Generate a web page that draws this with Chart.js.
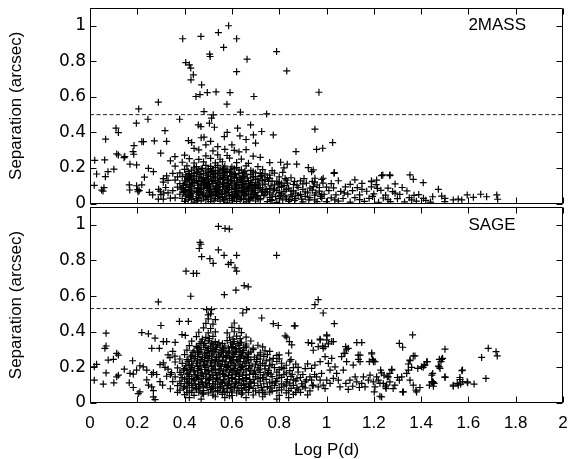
<!DOCTYPE html>
<html><head><meta charset="utf-8">
<script src="https://cdn.jsdelivr.net/npm/chart.js@4.4.1/dist/chart.umd.min.js"></script>
<style>
html,body{margin:0;padding:0;background:#fff;}
#wrap{position:relative;width:571px;height:459px;background:#fff;}
canvas{position:absolute;left:0;top:0;}
</style></head><body>
<div id="wrap"><canvas id="c1" width="571" height="459"></canvas><canvas id="c2" width="571" height="459"></canvas></div>
<script>
// ---- axis ticks / labels ----
const logPTicks = [0,0.2,0.4,0.6,0.8,1,1.2,1.4,1.6,1.8,2];
const sepTicks = [0,0.2,0.4,0.6,0.8,1];
const panelNames = ['2MASS','SAGE'];
const cutoffs = [0.5, 0.53];
const xTitle = 'Log P(d)';
const yTitle = 'Separation (arcsec)';

// ---- 2MASS panel: [log P, separation] ----
const mass2Outliers = [[0.392,0.927],[0.469,0.94],[0.543,0.962],[0.586,1.0],[0.62,0.927],[0.565,0.878],[0.506,0.84],[0.508,0.827],[0.664,0.812],[0.789,0.855],[0.832,0.746],[0.62,0.742],[0.405,0.793],[0.42,0.78],[0.426,0.762],[0.437,0.724],[0.427,0.696],[0.472,0.668],[0.448,0.602],[0.465,0.613],[0.496,0.624],[0.533,0.628],[0.592,0.624],[0.579,0.559],[0.693,0.602],[0.636,0.514],[0.482,0.517],[0.747,0.504],[0.289,0.57],[0.206,0.532],[0.196,0.452],[0.245,0.474],[0.379,0.474],[0.11,0.424],[0.12,0.399],[0.066,0.362],[0.02,0.243],[0.028,0.166],[0.018,0.102],[0.049,0.076],[0.055,0.07],[0.065,0.151],[0.076,0.179],[0.101,0.193],[0.113,0.279],[0.12,0.273],[0.147,0.264],[0.185,0.277],[0.186,0.326],[0.219,0.348],[0.226,0.348],[0.272,0.352],[0.317,0.41],[0.324,0.35],[0.299,0.283],[0.169,0.221],[0.197,0.217],[0.247,0.198],[0.268,0.179],[0.166,0.105],[0.197,0.1],[0.219,0.105],[0.202,0.078],[0.208,0.072],[0.23,0.148],[0.251,0.063],[0.265,0.048],[0.289,0.025],[0.31,0.025],[0.297,0.069],[0.312,0.059],[0.31,0.14],[0.324,0.155],[0.359,0.264],[0.416,0.354],[0.43,0.343],[0.458,0.442],[0.469,0.433],[0.482,0.373],[0.505,0.452],[0.514,0.48],[0.521,0.499],[0.526,0.429],[0.624,0.424],[0.634,0.38],[0.568,0.376],[0.679,0.442],[0.691,0.386],[0.726,0.405],[0.775,0.386],[0.806,0.232],[0.834,0.221],[0.871,0.292],[0.968,0.626],[0.951,0.418],[0.958,0.305],[0.984,0.311],[1.026,0.343],[0.874,0.221],[0.923,0.202],[0.937,0.179],[1.033,0.174],[1.238,0.161],[1.268,0.161],[1.353,0.161],[1.367,0.136],[1.409,0.117],[1.473,0.08],[0.059,0.089],[0.062,0.245],[0.144,0.258],[0.182,0.292],[0.168,0.076],[0.203,0.066],[0.49,0.33],[0.51,0.35],[0.54,0.32],[0.44,0.31],[0.6,0.33],[0.63,0.29],[0.72,0.26],[0.76,0.23],[0.82,0.2],[0.7,0.34],[0.66,0.36],[0.58,0.4],[0.47,0.37]];
const mass2Core = [
[0.40,0.012],[0.44,0.008],[0.47,0.015],[0.51,0.010],[0.55,0.013],[0.58,0.007],[0.62,0.012],[0.66,0.009],[0.70,0.014],[0.75,0.010],[0.79,0.006],[0.84,0.012],[0.90,0.009],[0.96,0.011],
[0.36,0.032],[0.39,0.028],[0.42,0.034],[0.45,0.027],[0.48,0.031],[0.50,0.036],[0.53,0.029],[0.56,0.033],[0.59,0.027],[0.61,0.035],[0.64,0.030],[0.67,0.026],[0.69,0.033],[0.72,0.029],[0.76,0.034],[0.80,0.028],[0.83,0.031],[0.87,0.027],[0.93,0.033],[0.98,0.029],
[0.38,0.052],[0.41,0.048],[0.43,0.055],[0.46,0.050],[0.49,0.046],[0.52,0.053],[0.54,0.049],[0.57,0.055],[0.60,0.051],[0.63,0.047],[0.65,0.054],[0.68,0.050],[0.71,0.045],[0.74,0.052],[0.77,0.048],[0.81,0.054],[0.85,0.049],[0.89,0.051],[0.95,0.047],
[0.35,0.072],[0.40,0.068],[0.42,0.074],[0.45,0.070],[0.47,0.066],[0.50,0.073],[0.53,0.069],[0.55,0.075],[0.58,0.071],[0.61,0.067],[0.64,0.072],[0.66,0.068],[0.69,0.074],[0.73,0.070],[0.75,0.065],[0.79,0.072],[0.82,0.068],[0.86,0.071],[0.91,0.066],[0.97,0.070],
[0.37,0.092],[0.39,0.088],[0.43,0.094],[0.46,0.090],[0.48,0.086],[0.51,0.093],[0.54,0.089],[0.56,0.095],[0.59,0.091],[0.62,0.087],[0.65,0.092],[0.67,0.088],[0.70,0.094],[0.72,0.089],[0.76,0.085],[0.80,0.091],[0.84,0.087],[0.88,0.090],[0.93,0.086],
[0.38,0.112],[0.41,0.108],[0.44,0.114],[0.47,0.110],[0.49,0.106],[0.52,0.113],[0.55,0.109],[0.57,0.115],[0.60,0.111],[0.63,0.107],[0.66,0.112],[0.68,0.108],[0.71,0.114],[0.74,0.109],[0.78,0.105],[0.81,0.111],[0.86,0.107],[0.90,0.110],[0.96,0.104],
[0.36,0.132],[0.40,0.128],[0.42,0.134],[0.45,0.130],[0.48,0.126],[0.50,0.133],[0.53,0.129],[0.56,0.135],[0.58,0.131],[0.61,0.127],[0.64,0.132],[0.67,0.128],[0.70,0.134],[0.73,0.129],[0.77,0.126],[0.83,0.131],[0.89,0.127],
[0.39,0.152],[0.41,0.148],[0.44,0.154],[0.46,0.150],[0.49,0.146],[0.52,0.153],[0.54,0.149],[0.57,0.155],[0.60,0.151],[0.62,0.147],[0.65,0.152],[0.69,0.148],[0.72,0.153],[0.75,0.146],[0.80,0.150],[0.85,0.145],
[0.38,0.172],[0.42,0.168],[0.45,0.174],[0.48,0.170],[0.51,0.166],[0.53,0.173],[0.56,0.169],[0.59,0.175],[0.63,0.170],[0.66,0.166],[0.70,0.172],[0.74,0.167],[0.78,0.171],
[0.40,0.192],[0.43,0.188],[0.47,0.194],[0.50,0.190],[0.52,0.186],[0.55,0.193],[0.58,0.189],[0.61,0.195],[0.64,0.190],[0.68,0.186],[0.73,0.191],
[0.41,0.212],[0.45,0.208],[0.49,0.214],[0.51,0.209],[0.54,0.215],[0.57,0.210],[0.60,0.206],[0.66,0.212],[0.71,0.207],
[0.39,0.232],[0.44,0.228],[0.48,0.234],[0.53,0.229],[0.56,0.235],[0.62,0.230],[0.67,0.226],
[0.42,0.252],[0.46,0.248],[0.51,0.254],[0.55,0.249],[0.59,0.255],[0.64,0.250],
[0.40,0.272],[0.49,0.268],[0.54,0.274],[0.58,0.270],[0.69,0.266],
[0.46,0.302],[0.52,0.296],[0.57,0.305],[0.61,0.299],[0.66,0.303],
[0.30,0.05],[0.32,0.09],[0.33,0.13],[0.34,0.03],[0.35,0.17],[0.31,0.12],[0.29,0.08],[0.33,0.06],[0.36,0.21],[0.34,0.24],[0.37,0.15]];
const mass2Dense = [
[0.415,0.020],[0.455,0.018],[0.49,0.022],[0.525,0.019],[0.565,0.021],[0.60,0.017],[0.635,0.022],[0.675,0.019],[0.72,0.021],[0.77,0.018],[0.815,0.02],[0.865,0.017],
[0.405,0.041],[0.435,0.038],[0.465,0.043],[0.495,0.039],[0.515,0.044],[0.545,0.040],[0.575,0.037],[0.605,0.042],[0.625,0.039],[0.655,0.043],[0.685,0.038],[0.705,0.041],[0.735,0.044],[0.785,0.039],[0.825,0.042],[0.91,0.04],
[0.395,0.061],[0.425,0.058],[0.455,0.063],[0.48,0.059],[0.505,0.064],[0.535,0.060],[0.56,0.057],[0.585,0.062],[0.615,0.059],[0.645,0.063],[0.67,0.058],[0.70,0.061],[0.725,0.064],[0.76,0.059],[0.80,0.062],[0.87,0.058],
[0.385,0.081],[0.415,0.078],[0.44,0.083],[0.465,0.079],[0.495,0.084],[0.525,0.080],[0.545,0.077],[0.575,0.082],[0.60,0.079],[0.63,0.083],[0.655,0.078],[0.685,0.081],[0.71,0.084],[0.745,0.079],[0.78,0.082],[0.83,0.078],[0.90,0.08],
[0.395,0.101],[0.425,0.098],[0.455,0.103],[0.485,0.099],[0.505,0.104],[0.535,0.100],[0.565,0.097],[0.585,0.102],[0.615,0.099],[0.645,0.103],[0.675,0.098],[0.695,0.101],[0.73,0.104],[0.765,0.099],[0.82,0.102],
[0.405,0.121],[0.435,0.118],[0.46,0.123],[0.485,0.119],[0.515,0.124],[0.54,0.120],[0.565,0.117],[0.595,0.122],[0.625,0.119],[0.655,0.123],[0.685,0.118],[0.715,0.121],[0.755,0.124],[0.80,0.119],
[0.415,0.141],[0.44,0.138],[0.47,0.143],[0.495,0.139],[0.525,0.144],[0.55,0.140],[0.585,0.137],[0.61,0.142],[0.635,0.139],[0.665,0.143],[0.71,0.138],[0.76,0.141],
[0.405,0.161],[0.43,0.158],[0.465,0.163],[0.495,0.159],[0.52,0.164],[0.55,0.160],[0.58,0.157],[0.615,0.162],[0.645,0.159],[0.68,0.163],[0.725,0.158],
[0.415,0.181],[0.455,0.178],[0.49,0.183],[0.515,0.179],[0.545,0.184],[0.575,0.180],[0.60,0.177],[0.655,0.182],[0.69,0.178],
[0.44,0.201],[0.475,0.198],[0.53,0.203],[0.565,0.199],[0.62,0.202]];
const mass2Fill = [
[0.43,0.025],[0.46,0.03],[0.50,0.024],[0.54,0.028],[0.57,0.022],[0.61,0.026],[0.65,0.023],[0.68,0.029],[0.71,0.025],
[0.425,0.047],[0.475,0.053],[0.51,0.047],[0.555,0.051],[0.59,0.046],[0.62,0.052],[0.66,0.048],[0.695,0.053],
[0.43,0.065],[0.46,0.07],[0.515,0.066],[0.545,0.072],[0.57,0.065],[0.625,0.07],[0.65,0.066],[0.685,0.071],[0.74,0.067],
[0.405,0.09],[0.455,0.085],[0.495,0.092],[0.53,0.087],[0.575,0.092],[0.61,0.086],[0.64,0.091],[0.665,0.085],[0.715,0.09],
[0.42,0.106],[0.47,0.104],[0.50,0.112],[0.545,0.107],[0.58,0.113],[0.62,0.105],[0.65,0.11],[0.70,0.106],
[0.43,0.127],[0.475,0.132],[0.52,0.128],[0.55,0.134],[0.60,0.128],[0.635,0.133],[0.68,0.127],
[0.425,0.15],[0.48,0.145],[0.51,0.152],[0.565,0.146],[0.595,0.153],[0.645,0.147],[0.69,0.152],
[0.44,0.17],[0.50,0.175],[0.54,0.168],[0.57,0.174],[0.61,0.168],[0.65,0.172],
[0.46,0.19],[0.51,0.196],[0.56,0.19],[0.595,0.194],[0.63,0.187]];
const mass2Right = [[0.765,0.022],[0.805,0.045],[0.845,0.022],[0.88,0.045],[0.92,0.06],[0.95,0.02],[0.775,0.075],[0.81,0.095],[0.85,0.07],[0.875,0.1],[0.915,0.115],[0.94,0.075],[0.79,0.125],[0.825,0.14],[0.865,0.125],[0.905,0.14],[0.76,0.16],[0.815,0.175],[0.95,0.12],[0.97,0.09],[0.98,0.05],[0.795,0.11],[0.835,0.115],[0.855,0.04],[0.895,0.025],[0.74,0.135],[0.77,0.185],[0.72,0.17]];
const mass2Tail = [
[1.00,0.010],[1.05,0.013],[1.10,0.008],[1.16,0.012],[1.22,0.007],[1.27,0.011],[1.33,0.009],[1.38,0.013],[1.44,0.008],[1.50,0.011],
[1.02,0.032],[1.07,0.028],[1.12,0.033],[1.18,0.029],[1.24,0.031],[1.30,0.027],[1.35,0.033],[1.41,0.029],
[0.99,0.052],[1.04,0.048],[1.09,0.053],[1.14,0.049],[1.20,0.054],[1.25,0.047],[1.31,0.051],[1.37,0.046],
[1.01,0.072],[1.06,0.068],[1.11,0.073],[1.17,0.069],[1.23,0.074],[1.28,0.067],[1.34,0.071],
[1.00,0.092],[1.03,0.088],[1.08,0.093],[1.13,0.089],[1.19,0.094],[1.26,0.087],[1.32,0.090],
[1.02,0.112],[1.10,0.108],[1.15,0.113],[1.21,0.106],[1.29,0.110],
[1.05,0.128],[1.12,0.133],[1.19,0.126],[0.98,0.135],[0.94,0.125],
[0.925,0.02],[0.955,0.06],[0.945,0.095],[0.975,0.04],[0.985,0.115],[1.035,0.02],[1.075,0.06],[1.14,0.022],[1.195,0.04],[1.15,0.08],[1.215,0.085],[1.26,0.022],[1.29,0.058],[1.36,0.02],[1.39,0.05],[1.42,0.018],
[1.449,0.038],[1.487,0.042],[1.501,0.029],[1.536,0.02],[1.557,0.025],[1.572,0.02],[1.595,0.048],[1.621,0.035],[1.652,0.052],[1.677,0.038],[1.72,0.048],[1.724,0.024],[1.191,0.123],[1.212,0.132],[1.233,0.157],[1.268,0.157],[1.032,0.17],[0.944,0.189],[0.951,0.142],[0.986,0.142]];

// ---- SAGE panel: [log P, separation] ----
const sageOutliers = [[0.543,0.991],[0.571,0.98],[0.589,0.976],[0.465,0.901],[0.469,0.891],[0.462,0.867],[0.472,0.821],[0.507,0.81],[0.521,0.784],[0.543,0.859],[0.567,0.829],[0.62,0.829],[0.585,0.778],[0.596,0.788],[0.613,0.759],[0.62,0.74],[0.789,0.829],[0.406,0.74],[0.437,0.727],[0.451,0.727],[0.426,0.599],[0.568,0.608],[0.617,0.633],[0.652,0.659],[0.669,0.652],[0.289,0.567],[0.646,0.505],[0.662,0.524],[0.493,0.524],[0.5,0.495],[0.514,0.524],[0.726,0.477],[0.775,0.445],[0.796,0.435],[0.864,0.433],[0.068,0.392],[0.3,0.435],[0.219,0.395],[0.247,0.388],[0.378,0.458],[0.416,0.458],[0.275,0.364],[0.31,0.345],[0.324,0.345],[0.389,0.384],[0.403,0.379],[0.261,0.307],[0.293,0.307],[0.068,0.32],[0.063,0.307],[0.077,0.241],[0.099,0.245],[0.113,0.279],[0.12,0.269],[0.018,0.203],[0.028,0.217],[0.018,0.128],[0.056,0.106],[0.068,0.169],[0.101,0.113],[0.113,0.147],[0.12,0.156],[0.145,0.19],[0.18,0.237],[0.169,0.166],[0.183,0.162],[0.197,0.185],[0.166,0.113],[0.183,0.087],[0.211,0.209],[0.225,0.203],[0.24,0.185],[0.204,0.053],[0.211,0.062],[0.24,0.13],[0.247,0.1],[0.261,0.16],[0.261,0.09],[0.268,0.07],[0.268,0.034],[0.275,0.019],[0.268,0.17],[0.282,0.16],[0.296,0.215],[0.31,0.225],[0.317,0.2],[0.296,0.12],[0.307,0.1],[0.338,0.255],[0.359,0.263],[0.324,0.15],[0.345,0.17]];
const sageCore = [
[0.40,0.047],[0.44,0.043],[0.48,0.050],[0.52,0.044],[0.56,0.048],[0.60,0.042],[0.64,0.049],[0.69,0.045],[0.74,0.050],[0.80,0.043],[0.86,0.048],[0.92,0.046],
[0.38,0.072],[0.42,0.068],[0.45,0.074],[0.48,0.069],[0.51,0.075],[0.54,0.070],[0.57,0.066],[0.60,0.073],[0.63,0.069],[0.66,0.074],[0.70,0.068],[0.73,0.072],[0.77,0.067],[0.81,0.073],[0.84,0.069],[0.88,0.074],[0.93,0.068],
[0.37,0.097],[0.40,0.093],[0.43,0.099],[0.46,0.094],[0.49,0.100],[0.52,0.095],[0.55,0.091],[0.58,0.098],[0.61,0.094],[0.64,0.099],[0.67,0.093],[0.71,0.097],[0.75,0.092],[0.78,0.098],[0.82,0.094],[0.86,0.099],[0.90,0.093],[0.94,0.097],
[0.38,0.122],[0.41,0.118],[0.44,0.124],[0.47,0.119],[0.50,0.125],[0.53,0.120],[0.56,0.116],[0.59,0.123],[0.62,0.119],[0.65,0.124],[0.68,0.118],[0.72,0.122],[0.76,0.117],[0.79,0.123],[0.83,0.119],[0.87,0.124],[0.91,0.118],
[0.36,0.147],[0.39,0.143],[0.42,0.149],[0.45,0.144],[0.48,0.150],[0.51,0.145],[0.54,0.141],[0.57,0.148],[0.60,0.144],[0.63,0.149],[0.66,0.143],[0.70,0.147],[0.73,0.142],[0.77,0.148],[0.81,0.144],[0.85,0.149],[0.89,0.143],[0.93,0.147],
[0.38,0.172],[0.41,0.168],[0.44,0.174],[0.47,0.169],[0.50,0.175],[0.53,0.170],[0.56,0.166],[0.59,0.173],[0.62,0.169],[0.65,0.174],[0.69,0.168],[0.72,0.172],[0.75,0.167],[0.79,0.173],[0.83,0.169],[0.88,0.174],
[0.37,0.197],[0.40,0.193],[0.43,0.199],[0.46,0.194],[0.49,0.200],[0.52,0.195],[0.55,0.191],[0.58,0.198],[0.61,0.194],[0.64,0.199],[0.67,0.193],[0.71,0.197],[0.74,0.192],[0.78,0.198],[0.82,0.194],[0.86,0.199],[0.91,0.193],
[0.39,0.222],[0.42,0.218],[0.45,0.224],[0.48,0.219],[0.51,0.225],[0.54,0.220],[0.57,0.216],[0.60,0.223],[0.63,0.219],[0.66,0.224],[0.70,0.218],[0.73,0.222],[0.77,0.217],[0.81,0.223],[0.87,0.219],
[0.38,0.247],[0.41,0.243],[0.44,0.249],[0.47,0.244],[0.50,0.250],[0.53,0.245],[0.56,0.241],[0.59,0.248],[0.62,0.244],[0.65,0.249],[0.68,0.243],[0.72,0.247],[0.76,0.242],[0.80,0.248],[0.85,0.244],
[0.40,0.272],[0.43,0.268],[0.46,0.274],[0.49,0.269],[0.52,0.275],[0.55,0.270],[0.58,0.266],[0.61,0.273],[0.64,0.269],[0.67,0.274],[0.71,0.268],[0.75,0.272],[0.79,0.267],
[0.41,0.297],[0.44,0.293],[0.47,0.299],[0.50,0.294],[0.53,0.300],[0.56,0.295],[0.59,0.291],[0.62,0.298],[0.65,0.294],[0.69,0.299],[0.74,0.293],
[0.42,0.322],[0.45,0.318],[0.48,0.324],[0.51,0.319],[0.54,0.325],[0.57,0.320],[0.60,0.316],[0.63,0.323],[0.66,0.319],[0.71,0.324],
[0.43,0.347],[0.47,0.343],[0.50,0.349],[0.53,0.344],[0.58,0.350],[0.61,0.345],[0.64,0.341],[0.68,0.348],
[0.45,0.372],[0.49,0.368],[0.52,0.374],[0.59,0.369],[0.62,0.375],[0.66,0.370],
[0.46,0.397],[0.50,0.393],[0.53,0.399],[0.58,0.394],[0.61,0.400],[0.64,0.395],
[0.48,0.422],[0.51,0.418],[0.60,0.424],[0.63,0.419],
[0.49,0.447],[0.52,0.443],[0.61,0.449],
[0.50,0.472],[0.53,0.468],[0.51,0.50],
[0.42,0.03],[0.47,0.022],[0.53,0.035],[0.57,0.03],[0.59,0.04],[0.66,0.03],[0.73,0.035],[0.79,0.022],[0.84,0.03],
[0.34,0.08],[0.35,0.12],[0.33,0.19],[0.36,0.23],[0.35,0.29],[0.37,0.06],[0.34,0.16],[0.36,0.34],[0.33,0.27]];
const sageDense = [
[0.41,0.058],[0.46,0.061],[0.50,0.057],[0.54,0.062],[0.58,0.059],[0.62,0.056],[0.67,0.060],[0.715,0.058],[0.76,0.061],[0.83,0.057],[0.89,0.06],
[0.395,0.084],[0.435,0.087],[0.465,0.083],[0.495,0.088],[0.53,0.084],[0.565,0.081],[0.595,0.086],[0.625,0.083],[0.655,0.087],[0.69,0.082],[0.725,0.086],[0.765,0.083],[0.80,0.087],[0.85,0.082],[0.91,0.085],
[0.385,0.109],[0.415,0.112],[0.445,0.108],[0.475,0.113],[0.505,0.109],[0.54,0.106],[0.57,0.111],[0.60,0.108],[0.63,0.112],[0.66,0.107],[0.695,0.111],[0.735,0.108],[0.77,0.112],[0.81,0.107],[0.845,0.111],[0.895,0.108],
[0.40,0.134],[0.43,0.137],[0.46,0.133],[0.49,0.138],[0.52,0.134],[0.55,0.131],[0.585,0.136],[0.615,0.133],[0.645,0.137],[0.675,0.132],[0.71,0.136],[0.745,0.133],[0.79,0.137],[0.835,0.132],[0.875,0.136],
[0.385,0.159],[0.415,0.162],[0.445,0.158],[0.475,0.163],[0.505,0.159],[0.535,0.156],[0.565,0.161],[0.60,0.158],[0.63,0.162],[0.66,0.157],[0.70,0.161],[0.735,0.158],[0.765,0.162],[0.80,0.157],[0.855,0.161],
[0.395,0.184],[0.425,0.187],[0.455,0.183],[0.485,0.188],[0.515,0.184],[0.545,0.181],[0.575,0.186],[0.605,0.183],[0.635,0.187],[0.68,0.182],[0.715,0.186],[0.755,0.183],[0.80,0.187],[0.845,0.182],
[0.405,0.209],[0.435,0.212],[0.465,0.208],[0.495,0.213],[0.525,0.209],[0.555,0.206],[0.585,0.211],[0.615,0.208],[0.645,0.212],[0.685,0.207],[0.72,0.211],[0.76,0.208],[0.83,0.212],
[0.415,0.234],[0.455,0.237],[0.485,0.233],[0.515,0.238],[0.545,0.234],[0.575,0.231],[0.605,0.236],[0.635,0.233],[0.67,0.237],[0.705,0.232],[0.745,0.236],[0.79,0.233],
[0.425,0.259],[0.455,0.262],[0.485,0.258],[0.515,0.263],[0.545,0.259],[0.575,0.256],[0.605,0.261],[0.635,0.258],[0.66,0.262],[0.695,0.257],[0.735,0.261],
[0.435,0.284],[0.465,0.287],[0.495,0.283],[0.525,0.288],[0.555,0.284],[0.585,0.281],[0.615,0.286],[0.645,0.283],[0.68,0.287],[0.72,0.282],
[0.455,0.309],[0.49,0.312],[0.52,0.308],[0.55,0.313],[0.585,0.309],[0.615,0.306],[0.65,0.311],[0.69,0.308],
[0.465,0.334],[0.515,0.337],[0.56,0.333],[0.595,0.338],[0.625,0.334],[0.66,0.331],
[0.475,0.359],[0.505,0.362],[0.605,0.358],[0.635,0.361]];
const sageFill = [
[0.43,0.06],[0.475,0.055],[0.52,0.063],[0.56,0.058],[0.60,0.062],[0.645,0.057],
[0.41,0.085],[0.45,0.082],[0.48,0.09],[0.515,0.083],[0.55,0.089],[0.58,0.082],[0.61,0.088],[0.64,0.082],[0.675,0.088],
[0.42,0.11],[0.46,0.105],[0.49,0.113],[0.52,0.107],[0.555,0.113],[0.585,0.106],[0.615,0.112],[0.65,0.106],[0.68,0.112],
[0.41,0.135],[0.44,0.131],[0.47,0.139],[0.505,0.132],[0.535,0.139],[0.565,0.131],[0.60,0.138],[0.63,0.131],[0.66,0.137],[0.69,0.132],
[0.42,0.16],[0.455,0.155],[0.49,0.163],[0.52,0.157],[0.55,0.163],[0.585,0.155],[0.615,0.162],[0.645,0.156],[0.675,0.161],
[0.41,0.185],[0.44,0.18],[0.47,0.188],[0.50,0.182],[0.53,0.188],[0.565,0.18],[0.595,0.187],[0.625,0.181],[0.66,0.186],[0.695,0.181],
[0.42,0.21],[0.455,0.205],[0.485,0.213],[0.515,0.206],[0.55,0.212],[0.58,0.205],[0.61,0.212],[0.645,0.206],[0.675,0.211],
[0.43,0.235],[0.465,0.23],[0.495,0.238],[0.53,0.231],[0.56,0.237],[0.595,0.23],[0.625,0.237],[0.655,0.231],
[0.445,0.26],[0.475,0.255],[0.505,0.263],[0.535,0.256],[0.565,0.262],[0.60,0.255],[0.63,0.262],[0.665,0.256],
[0.455,0.285],[0.485,0.28],[0.515,0.288],[0.545,0.281],[0.575,0.287],[0.605,0.28],[0.635,0.287],[0.67,0.281],
[0.46,0.31],[0.50,0.305],[0.535,0.313],[0.565,0.306],[0.60,0.312],[0.63,0.305],[0.66,0.31],
[0.485,0.335],[0.52,0.33],[0.545,0.338],[0.605,0.33],[0.635,0.337]];
const sageRight = [[0.72,0.14],[0.755,0.17],[0.785,0.12],[0.82,0.16],[0.86,0.13],[0.9,0.16],[0.74,0.21],[0.775,0.25],[0.81,0.2],[0.845,0.235],[0.88,0.2],[0.92,0.22],[0.75,0.09],[0.79,0.07],[0.83,0.1],[0.875,0.085],[0.915,0.13],[0.72,0.27],[0.76,0.29],[0.80,0.27],[0.84,0.28],[0.73,0.06],[0.87,0.06],[0.95,0.16],[0.705,0.245],[0.73,0.315]];
const sageTail = [[0.965,0.58],[0.951,0.552],[0.986,0.505],[1.033,0.445],[0.867,0.433],[0.825,0.377],[0.832,0.37],[0.843,0.345],[0.853,0.326],[0.923,0.339],[0.937,0.335],[0.973,0.358],[1.001,0.377],[0.994,0.316],[1.008,0.332],[0.984,0.32],[1.029,0.345],[1.081,0.316],[1.085,0.302],[1.074,0.279],[1.128,0.339],[1.149,0.339],[1.142,0.269],[1.135,0.245],[1.191,0.275],[1.195,0.245],[1.181,0.232],[1.199,0.232],[1.364,0.382],[1.308,0.335],[1.322,0.313],[1.367,0.264],[1.353,0.241],[1.346,0.219],[1.424,0.232],[1.413,0.213],[1.402,0.203],[1.501,0.302],[1.491,0.251],[1.484,0.232],[1.477,0.203],[1.656,0.256],[1.684,0.307],[1.717,0.288],[1.722,0.264],[1.572,0.181],[1.564,0.143],[1.536,0.1],[1.553,0.11],[1.576,0.119],[1.597,0.113],[1.624,0.106],[1.674,0.138],[1.501,0.147],[1.449,0.166],[1.445,0.119],[1.452,0.113],[1.378,0.072],[1.367,0.1],[1.353,0.128],[1.339,0.166],[1.322,0.062],[1.282,0.081],[1.289,0.1],[1.254,0.1],[1.268,0.119],[1.202,0.062],[1.226,0.038],[1.233,0.169],[1.261,0.147],[1.276,0.185],[1.24,0.11],[1.25,0.09],
[1.191,0.281],[1.198,0.237],[1.205,0.232],[1.233,0.034],[1.252,0.081],[1.325,0.062],[1.381,0.062],[1.395,0.087],[1.416,0.213],[1.426,0.232],[1.409,0.2],[1.445,0.156],[1.449,0.119],[1.435,0.1],[1.455,0.11],[1.386,0.194],[1.346,0.185],[1.36,0.2],[1.353,0.237],[1.374,0.264],[1.318,0.147],[1.308,0.128],[1.3,0.143],[1.276,0.189],[1.268,0.166],[1.257,0.147],[1.243,0.156],[1.229,0.185],[1.212,0.147],[1.219,0.128],[1.226,0.11],[1.198,0.119],[1.205,0.09],[1.184,0.156],[1.177,0.128],[1.156,0.147],[1.149,0.11],[1.163,0.09],[1.139,0.087],[1.128,0.119],[1.121,0.147],[1.099,0.128],[1.111,0.094],[1.082,0.11],[1.092,0.076],[1.071,0.185],[1.085,0.232],[1.078,0.279],[1.064,0.26],[1.092,0.307],[1.134,0.269],[1.142,0.232],[1.113,0.213],[1.043,0.166],[1.05,0.128],[1.057,0.09],[1.029,0.138],[1.015,0.11],[1.001,0.128],[0.994,0.081],[0.986,0.1],[0.973,0.128],[0.965,0.09],[0.944,0.1],[0.937,0.128],[0.958,0.147],[0.979,0.166],[1.015,0.185],[1.036,0.203],[1.008,0.222],[1.022,0.251],[0.973,0.232],[0.951,0.213],[0.937,0.194],[0.994,0.26],[0.986,0.307],[1.022,0.345],[1.001,0.354],[0.965,0.316],[0.944,0.296],[0.937,0.335],[0.973,0.354],[1.001,0.382],
[1.487,0.245],[1.477,0.245],[1.473,0.207],[1.48,0.194],[1.501,0.143],[1.449,0.119],[1.452,0.094],[1.575,0.185],[1.536,0.094],[1.557,0.1],[1.564,0.132],[1.567,0.106],[1.595,0.119]];

// ---- drawing ----
const FONT = "'Liberation Sans', Arial, Helvetica, sans-serif";
const toXY = arr => arr.map(p => ({x: p[0], y: p[1]}));
const fmt = v => String(+Number(v).toFixed(1));

const framePlugin = {
  id: 'frame',
  afterDraw(chart) {
    const {ctx, chartArea: a, scales: {x, y}} = chart;
    const o = chart.options.plugins.frame;
    ctx.save();
    ctx.strokeStyle = '#000';
    ctx.lineWidth = 1;
    ctx.beginPath();
    const L = Math.round(a.left) + 0.5, R = Math.round(a.right) - 0.5;
    const T = Math.round(a.top) + 0.5, B = Math.round(a.bottom) - 0.5;
    ctx.rect(L, T, R - L, B - T);
    const tl = 6;
    logPTicks.forEach(v => {
      const px = Math.round(x.getPixelForValue(v)) + 0.5;
      ctx.moveTo(px, B); ctx.lineTo(px, B - tl);
      ctx.moveTo(px, T); ctx.lineTo(px, T + tl);
    });
    sepTicks.forEach(v => {
      const py = Math.round(y.getPixelForValue(v)) + 0.5;
      ctx.moveTo(L, py); ctx.lineTo(L + tl, py);
      ctx.moveTo(R, py); ctx.lineTo(R - tl, py);
    });
    ctx.stroke();
    ctx.fillStyle = '#000';
    ctx.font = '17px ' + FONT;
    ctx.textAlign = 'left';
    ctx.textBaseline = 'middle';
    ctx.fillText(o.name, x.getPixelForValue(1.6), y.getPixelForValue(1.0));
    ctx.restore();
  }
};

function makePanel(id, points, cutoff, name, isBottom) {
  const zeroPad = s => { s.paddingTop = 0; s.paddingBottom = 0; s.paddingLeft = 0; s.paddingRight = 0; };
  return new Chart(document.getElementById(id), {
    type: 'scatter',
    data: {
      datasets: [
        {type: 'line', data: [{x: 0, y: cutoff}, {x: 2, y: cutoff}], borderColor: '#222', borderWidth: 1,
         borderDash: [4, 2.5], pointRadius: 0, fill: false, order: 0},
        {data: toXY(points), pointStyle: 'cross', pointRadius: 3.5, borderColor: '#000',
         backgroundColor: '#000', borderWidth: 1.2, order: 1}
      ]
    },
    options: {
      responsive: false, animation: false, events: [],
      layout: {padding: {left: 0, right: 8, top: isBottom ? 207 : 8, bottom: isBottom ? 0 : 255.5}},
      plugins: {legend: {display: false}, tooltip: {enabled: false}, frame: {name}},
      scales: {
        x: {
          type: 'linear', min: 0, max: 2, display: isBottom,
          afterBuildTicks: s => { s.ticks = logPTicks.map(v => ({value: v})); },
          afterFit: s => { if (isBottom) s.height = 56; zeroPad(s); },
          grid: {display: false, drawTicks: false}, border: {display: false},
          ticks: {padding: 10, color: '#000', maxRotation: 0, autoSkip: false,
                  font: {family: FONT, size: 17}, callback: v => fmt(v)},
          title: {display: true, text: xTitle, color: '#000', padding: {top: 0, bottom: 0},
                  font: {family: FONT, size: 17, lineHeight: 1}}
        },
        y: {
          type: 'linear', min: 0, max: 1.1,
          afterBuildTicks: s => { s.ticks = sepTicks.map(v => ({value: v})); },
          afterFit: s => { s.width = 90; zeroPad(s); },
          grid: {display: false, drawTicks: false}, border: {display: false},
          ticks: {padding: 4, color: '#000', autoSkip: false,
                  font: {family: "'DejaVu Sans', sans-serif", size: 17}, callback: v => fmt(v)},
          title: {display: true, text: yTitle, color: '#000', padding: {top: 6, bottom: 0},
                  font: {family: FONT, size: 17}}
        }
      }
    },
    plugins: [framePlugin]
  });
}

makePanel('c1', [...mass2Outliers, ...mass2Core, ...mass2Dense, ...mass2Fill, ...mass2Right, ...mass2Tail], cutoffs[0], panelNames[0], false);
makePanel('c2', [...sageOutliers, ...sageCore, ...sageDense, ...sageFill, ...sageRight, ...sageTail], cutoffs[1], panelNames[1], true);
</script>
</body></html>
